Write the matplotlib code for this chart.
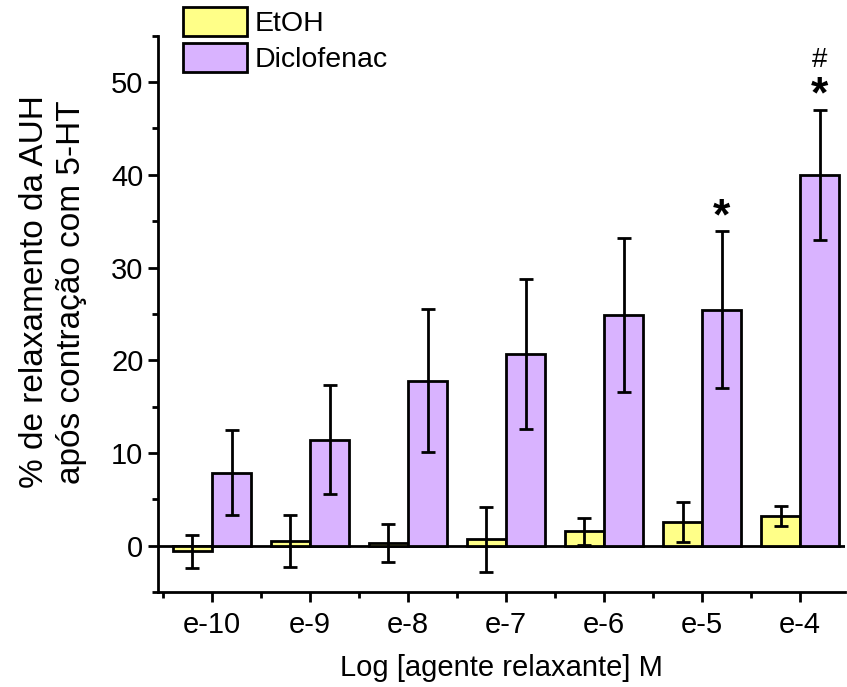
import numpy as np
import matplotlib.pyplot as plt
from matplotlib.ticker import MultipleLocator

plt.rcParams['font.family'] = ['Liberation Sans', 'DejaVu Sans']

# dados
categorias = ['e-10', 'e-9', 'e-8', 'e-7', 'e-6', 'e-5', 'e-4']
etoh = [-0.6, 0.5, 0.3, 0.7, 1.55, 2.6, 3.2]
etoh_err = [1.8, 2.8, 2.0, 3.5, 1.5, 2.15, 1.05]
diclo = [7.9, 11.45, 17.8, 20.7, 24.9, 25.45, 40.0]
diclo_err = [4.6, 5.85, 7.7, 8.1, 8.3, 8.45, 7.0]
marcas = ['', '', '', '', '', '*', '*']
marcas2 = ['', '', '', '', '', '', '#']

fig = plt.figure(figsize=(8.47, 6.87), dpi=100)
ax = fig.add_axes([0.1865, 0.138, 0.8115, 0.81])

x = np.arange(len(categorias))
w = 0.4
lw = 2.0
ek = dict(ecolor='black', elinewidth=lw, capsize=5, capthick=lw)
ax.bar(x - w/2, etoh, w, yerr=etoh_err, color='#FFFF88', edgecolor='black',
       linewidth=lw, label='EtOH', error_kw=ek, zorder=2)
ax.bar(x + w/2, diclo, w, yerr=diclo_err, color='#D9B3FF', edgecolor='black',
       linewidth=lw, label='Diclofenac', error_kw=ek, zorder=2)
ax.axhline(0, color='black', lw=lw, zorder=1)

# asteriscos e #
for i in range(len(categorias)):
    topo = diclo[i] + diclo_err[i]
    if marcas[i]:
        ax.text(x[i] + w/2, topo + 1.5, marcas[i], ha='center', va='center',
                fontsize=32, fontweight='bold')
    if marcas2[i]:
        ax.text(x[i] + w/2, topo + 5.4, marcas2[i], ha='center', va='center',
                fontsize=20)

ax.set_xlim(-0.55, 6.46)
ax.set_ylim(-5, 55)
ax.set_xticks(x)
ax.set_xticklabels(categorias)
ax.xaxis.set_minor_locator(MultipleLocator(0.5))
ax.yaxis.set_major_locator(MultipleLocator(10))
ax.yaxis.set_minor_locator(MultipleLocator(5))
ax.tick_params(which='major', direction='out', length=7.5, width=lw, labelsize=21)
ax.tick_params(which='minor', direction='out', length=4, width=lw)
ax.tick_params(axis='x', which='major', pad=6)
ax.tick_params(axis='y', which='major', pad=3)
for s in ['top', 'right']:
    ax.spines[s].set_visible(False)
for s in ['left', 'bottom']:
    ax.spines[s].set_linewidth(lw)

ax.set_xlabel('Log [agente relaxante] M', fontsize=21, labelpad=11)
ax.set_ylabel('% de relaxamento da AUH\napós contração com 5-HT', fontsize=24,
              linespacing=1.25)
ax.yaxis.set_label_coords(-0.103, 0.54)

fig.legend(loc='upper left', bbox_to_anchor=(0.216, 0.99), frameon=False,
           fontsize=20.5, handlelength=2.25, handleheight=1.2, labelspacing=0.2,
           handletextpad=0.25, borderaxespad=0, borderpad=0)

plt.savefig('out.png')
